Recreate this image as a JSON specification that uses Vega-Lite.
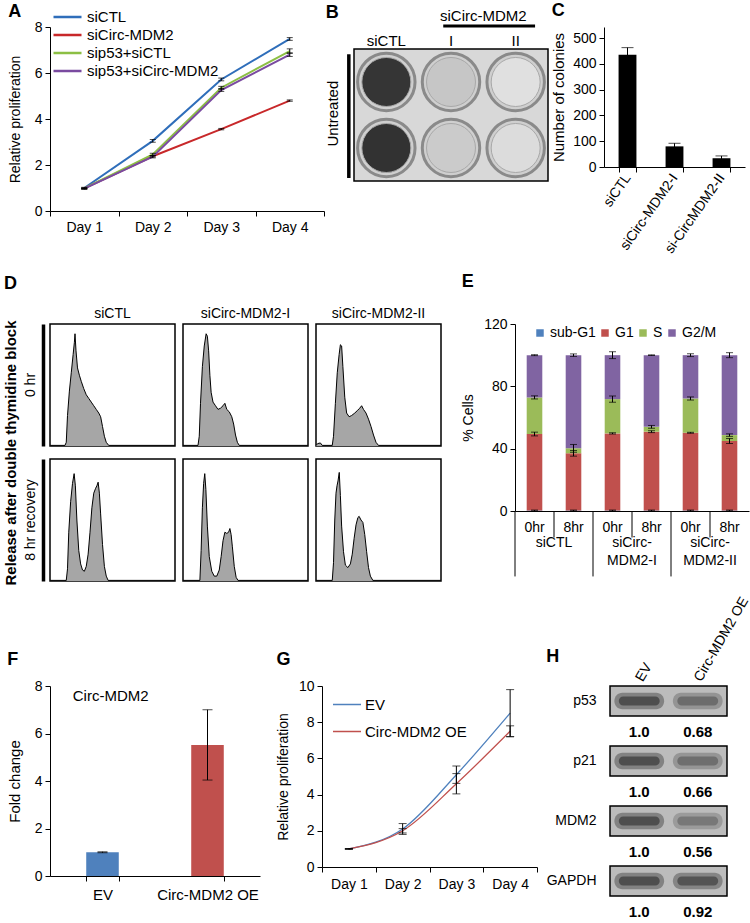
{
  "$schema": "https://vega.github.io/schema/vega-lite/v6.json",
  "background": "white",
  "padding": {"left": 3, "top": 2, "right": 0, "bottom": 0},
  "config": {
    "font": "Liberation Sans",
    "view": {"stroke": null},
    "axis": {
      "grid": false, "domainColor": "black", "tickColor": "black", "labelColor": "black",
      "titleColor": "black", "titleFontWeight": "normal", "labelFontSize": 13, "titleFontSize": 14,
      "labelFont": "Liberation Sans", "titleFont": "Liberation Sans", "tickSize": 5, "labelPadding": 3, "minExtent": 0
    },
    "legend": {"labelFont": "Liberation Sans", "labelColor": "black", "labelFontSize": 14},
    "header": {"labelFont": "Liberation Sans", "titleFont": "Liberation Sans", "labelColor": "black", "titleColor": "black"},
    "title": {"fontSize": 18, "fontWeight": "bold", "anchor": "start", "font": "Liberation Sans", "frame": "bounds", "color": "black"}
  },
  "datasets": {
    "prolif": [
      {"day": "Day 1", "series": "siCTL", "value": 1.0, "err": 0.03},
      {"day": "Day 2", "series": "siCTL", "value": 3.05, "err": 0.06},
      {"day": "Day 3", "series": "siCTL", "value": 5.72, "err": 0.06},
      {"day": "Day 4", "series": "siCTL", "value": 7.48, "err": 0.06},
      {"day": "Day 1", "series": "siCirc-MDM2", "value": 0.98, "err": 0.02},
      {"day": "Day 2", "series": "siCirc-MDM2", "value": 2.38, "err": 0.03},
      {"day": "Day 3", "series": "siCirc-MDM2", "value": 3.56, "err": 0.03},
      {"day": "Day 4", "series": "siCirc-MDM2", "value": 4.8, "err": 0.03},
      {"day": "Day 1", "series": "sip53+siCTL", "value": 0.98, "err": 0.02},
      {"day": "Day 2", "series": "sip53+siCTL", "value": 2.46, "err": 0.05},
      {"day": "Day 3", "series": "sip53+siCTL", "value": 5.36, "err": 0.06},
      {"day": "Day 4", "series": "sip53+siCTL", "value": 6.95, "err": 0.1},
      {"day": "Day 1", "series": "sip53+siCirc-MDM2", "value": 0.97, "err": 0.02},
      {"day": "Day 2", "series": "sip53+siCirc-MDM2", "value": 2.36, "err": 0.05},
      {"day": "Day 3", "series": "sip53+siCirc-MDM2", "value": 5.26, "err": 0.06},
      {"day": "Day 4", "series": "sip53+siCirc-MDM2", "value": 6.8, "err": 0.08}
    ],
    "plates": [
      {"col": "siCTL", "row": 1, "colonies": 430},
      {"col": "siCTL", "row": 2, "colonies": 440},
      {"col": "I", "row": 1, "colonies": 85},
      {"col": "I", "row": 2, "colonies": 75},
      {"col": "II", "row": 1, "colonies": 30},
      {"col": "II", "row": 2, "colonies": 38}
    ],
    "colonies": [
      {"cond": "siCTL", "n": 435, "err": 28},
      {"cond": "siCirc-MDM2-I", "n": 80, "err": 12},
      {"cond": "si-CircMDM2-II", "n": 34, "err": 9}
    ],
    "flow": [
      {"cond": "siCTL", "time": "0 hr", "kind": "hist", "ch": 0, "cnt": 0.5},
      {"cond": "siCTL", "time": "0 hr", "kind": "hist", "ch": 12, "cnt": 0.5},
      {"cond": "siCTL", "time": "0 hr", "kind": "hist", "ch": 13, "cnt": 3},
      {"cond": "siCTL", "time": "0 hr", "kind": "hist", "ch": 14, "cnt": 25},
      {"cond": "siCTL", "time": "0 hr", "kind": "hist", "ch": 15.5, "cnt": 45},
      {"cond": "siCTL", "time": "0 hr", "kind": "hist", "ch": 17, "cnt": 60},
      {"cond": "siCTL", "time": "0 hr", "kind": "hist", "ch": 18.5, "cnt": 75},
      {"cond": "siCTL", "time": "0 hr", "kind": "hist", "ch": 19.5, "cnt": 85},
      {"cond": "siCTL", "time": "0 hr", "kind": "hist", "ch": 20, "cnt": 92},
      {"cond": "siCTL", "time": "0 hr", "kind": "hist", "ch": 20.8, "cnt": 78},
      {"cond": "siCTL", "time": "0 hr", "kind": "hist", "ch": 22, "cnt": 64},
      {"cond": "siCTL", "time": "0 hr", "kind": "hist", "ch": 23.5, "cnt": 58},
      {"cond": "siCTL", "time": "0 hr", "kind": "hist", "ch": 25, "cnt": 53},
      {"cond": "siCTL", "time": "0 hr", "kind": "hist", "ch": 27, "cnt": 47},
      {"cond": "siCTL", "time": "0 hr", "kind": "hist", "ch": 29, "cnt": 42},
      {"cond": "siCTL", "time": "0 hr", "kind": "hist", "ch": 31, "cnt": 39},
      {"cond": "siCTL", "time": "0 hr", "kind": "hist", "ch": 33, "cnt": 36},
      {"cond": "siCTL", "time": "0 hr", "kind": "hist", "ch": 35, "cnt": 33},
      {"cond": "siCTL", "time": "0 hr", "kind": "hist", "ch": 37, "cnt": 30},
      {"cond": "siCTL", "time": "0 hr", "kind": "hist", "ch": 39, "cnt": 27},
      {"cond": "siCTL", "time": "0 hr", "kind": "hist", "ch": 40.5, "cnt": 24},
      {"cond": "siCTL", "time": "0 hr", "kind": "hist", "ch": 42, "cnt": 16},
      {"cond": "siCTL", "time": "0 hr", "kind": "hist", "ch": 43.5, "cnt": 8},
      {"cond": "siCTL", "time": "0 hr", "kind": "hist", "ch": 45, "cnt": 3},
      {"cond": "siCTL", "time": "0 hr", "kind": "hist", "ch": 47, "cnt": 0.5},
      {"cond": "siCTL", "time": "0 hr", "kind": "hist", "ch": 100, "cnt": 0.5},
      {"cond": "siCirc-MDM2-I", "time": "0 hr", "kind": "hist", "ch": 0, "cnt": 0.5},
      {"cond": "siCirc-MDM2-I", "time": "0 hr", "kind": "hist", "ch": 12, "cnt": 0.5},
      {"cond": "siCirc-MDM2-I", "time": "0 hr", "kind": "hist", "ch": 13, "cnt": 8},
      {"cond": "siCirc-MDM2-I", "time": "0 hr", "kind": "hist", "ch": 14, "cnt": 35},
      {"cond": "siCirc-MDM2-I", "time": "0 hr", "kind": "hist", "ch": 15.5, "cnt": 65},
      {"cond": "siCirc-MDM2-I", "time": "0 hr", "kind": "hist", "ch": 17, "cnt": 82},
      {"cond": "siCirc-MDM2-I", "time": "0 hr", "kind": "hist", "ch": 18.5, "cnt": 92},
      {"cond": "siCirc-MDM2-I", "time": "0 hr", "kind": "hist", "ch": 19.5, "cnt": 90},
      {"cond": "siCirc-MDM2-I", "time": "0 hr", "kind": "hist", "ch": 20.5, "cnt": 78},
      {"cond": "siCirc-MDM2-I", "time": "0 hr", "kind": "hist", "ch": 21.5, "cnt": 58},
      {"cond": "siCirc-MDM2-I", "time": "0 hr", "kind": "hist", "ch": 22.5, "cnt": 44},
      {"cond": "siCirc-MDM2-I", "time": "0 hr", "kind": "hist", "ch": 24, "cnt": 36},
      {"cond": "siCirc-MDM2-I", "time": "0 hr", "kind": "hist", "ch": 26, "cnt": 33},
      {"cond": "siCirc-MDM2-I", "time": "0 hr", "kind": "hist", "ch": 28, "cnt": 30},
      {"cond": "siCirc-MDM2-I", "time": "0 hr", "kind": "hist", "ch": 30, "cnt": 31},
      {"cond": "siCirc-MDM2-I", "time": "0 hr", "kind": "hist", "ch": 32, "cnt": 33},
      {"cond": "siCirc-MDM2-I", "time": "0 hr", "kind": "hist", "ch": 33.5, "cnt": 35},
      {"cond": "siCirc-MDM2-I", "time": "0 hr", "kind": "hist", "ch": 35, "cnt": 30},
      {"cond": "siCirc-MDM2-I", "time": "0 hr", "kind": "hist", "ch": 37, "cnt": 28},
      {"cond": "siCirc-MDM2-I", "time": "0 hr", "kind": "hist", "ch": 39, "cnt": 24},
      {"cond": "siCirc-MDM2-I", "time": "0 hr", "kind": "hist", "ch": 40.5, "cnt": 18},
      {"cond": "siCirc-MDM2-I", "time": "0 hr", "kind": "hist", "ch": 42, "cnt": 9},
      {"cond": "siCirc-MDM2-I", "time": "0 hr", "kind": "hist", "ch": 43.5, "cnt": 3},
      {"cond": "siCirc-MDM2-I", "time": "0 hr", "kind": "hist", "ch": 45, "cnt": 0.5},
      {"cond": "siCirc-MDM2-I", "time": "0 hr", "kind": "hist", "ch": 100, "cnt": 0.5},
      {"cond": "siCirc-MDM2-II", "time": "0 hr", "kind": "hist", "ch": 0, "cnt": 0.5},
      {"cond": "siCirc-MDM2-II", "time": "0 hr", "kind": "hist", "ch": 1.5, "cnt": 2},
      {"cond": "siCirc-MDM2-II", "time": "0 hr", "kind": "hist", "ch": 3.5, "cnt": 2.5},
      {"cond": "siCirc-MDM2-II", "time": "0 hr", "kind": "hist", "ch": 5, "cnt": 0.5},
      {"cond": "siCirc-MDM2-II", "time": "0 hr", "kind": "hist", "ch": 13, "cnt": 0.5},
      {"cond": "siCirc-MDM2-II", "time": "0 hr", "kind": "hist", "ch": 14, "cnt": 8},
      {"cond": "siCirc-MDM2-II", "time": "0 hr", "kind": "hist", "ch": 15.5, "cnt": 35},
      {"cond": "siCirc-MDM2-II", "time": "0 hr", "kind": "hist", "ch": 17, "cnt": 60},
      {"cond": "siCirc-MDM2-II", "time": "0 hr", "kind": "hist", "ch": 18.5, "cnt": 75},
      {"cond": "siCirc-MDM2-II", "time": "0 hr", "kind": "hist", "ch": 19.5, "cnt": 83},
      {"cond": "siCirc-MDM2-II", "time": "0 hr", "kind": "hist", "ch": 20.5, "cnt": 82},
      {"cond": "siCirc-MDM2-II", "time": "0 hr", "kind": "hist", "ch": 21.5, "cnt": 65},
      {"cond": "siCirc-MDM2-II", "time": "0 hr", "kind": "hist", "ch": 23, "cnt": 40},
      {"cond": "siCirc-MDM2-II", "time": "0 hr", "kind": "hist", "ch": 24.5, "cnt": 27},
      {"cond": "siCirc-MDM2-II", "time": "0 hr", "kind": "hist", "ch": 26.5, "cnt": 24},
      {"cond": "siCirc-MDM2-II", "time": "0 hr", "kind": "hist", "ch": 28.5, "cnt": 25},
      {"cond": "siCirc-MDM2-II", "time": "0 hr", "kind": "hist", "ch": 31, "cnt": 27},
      {"cond": "siCirc-MDM2-II", "time": "0 hr", "kind": "hist", "ch": 33, "cnt": 29},
      {"cond": "siCirc-MDM2-II", "time": "0 hr", "kind": "hist", "ch": 35, "cnt": 31},
      {"cond": "siCirc-MDM2-II", "time": "0 hr", "kind": "hist", "ch": 36.5, "cnt": 33},
      {"cond": "siCirc-MDM2-II", "time": "0 hr", "kind": "hist", "ch": 38, "cnt": 30},
      {"cond": "siCirc-MDM2-II", "time": "0 hr", "kind": "hist", "ch": 40, "cnt": 27},
      {"cond": "siCirc-MDM2-II", "time": "0 hr", "kind": "hist", "ch": 42, "cnt": 22},
      {"cond": "siCirc-MDM2-II", "time": "0 hr", "kind": "hist", "ch": 44, "cnt": 16},
      {"cond": "siCirc-MDM2-II", "time": "0 hr", "kind": "hist", "ch": 46, "cnt": 9},
      {"cond": "siCirc-MDM2-II", "time": "0 hr", "kind": "hist", "ch": 48, "cnt": 3},
      {"cond": "siCirc-MDM2-II", "time": "0 hr", "kind": "hist", "ch": 50, "cnt": 0.5},
      {"cond": "siCirc-MDM2-II", "time": "0 hr", "kind": "hist", "ch": 100, "cnt": 0.5},
      {"cond": "siCTL", "time": "8 hr recovery", "kind": "hist", "ch": 0, "cnt": 0.5},
      {"cond": "siCTL", "time": "8 hr recovery", "kind": "hist", "ch": 13, "cnt": 0.5},
      {"cond": "siCTL", "time": "8 hr recovery", "kind": "hist", "ch": 14, "cnt": 10},
      {"cond": "siCTL", "time": "8 hr recovery", "kind": "hist", "ch": 15, "cnt": 40},
      {"cond": "siCTL", "time": "8 hr recovery", "kind": "hist", "ch": 16.5, "cnt": 65},
      {"cond": "siCTL", "time": "8 hr recovery", "kind": "hist", "ch": 18, "cnt": 80},
      {"cond": "siCTL", "time": "8 hr recovery", "kind": "hist", "ch": 19.3, "cnt": 88},
      {"cond": "siCTL", "time": "8 hr recovery", "kind": "hist", "ch": 20.3, "cnt": 78},
      {"cond": "siCTL", "time": "8 hr recovery", "kind": "hist", "ch": 21.5, "cnt": 50},
      {"cond": "siCTL", "time": "8 hr recovery", "kind": "hist", "ch": 23, "cnt": 25},
      {"cond": "siCTL", "time": "8 hr recovery", "kind": "hist", "ch": 24.5, "cnt": 14},
      {"cond": "siCTL", "time": "8 hr recovery", "kind": "hist", "ch": 26, "cnt": 9},
      {"cond": "siCTL", "time": "8 hr recovery", "kind": "hist", "ch": 27.5, "cnt": 8},
      {"cond": "siCTL", "time": "8 hr recovery", "kind": "hist", "ch": 29, "cnt": 12},
      {"cond": "siCTL", "time": "8 hr recovery", "kind": "hist", "ch": 30.5, "cnt": 22},
      {"cond": "siCTL", "time": "8 hr recovery", "kind": "hist", "ch": 32, "cnt": 40},
      {"cond": "siCTL", "time": "8 hr recovery", "kind": "hist", "ch": 33.5, "cnt": 60},
      {"cond": "siCTL", "time": "8 hr recovery", "kind": "hist", "ch": 35, "cnt": 72},
      {"cond": "siCTL", "time": "8 hr recovery", "kind": "hist", "ch": 36.5, "cnt": 76},
      {"cond": "siCTL", "time": "8 hr recovery", "kind": "hist", "ch": 37.5, "cnt": 78},
      {"cond": "siCTL", "time": "8 hr recovery", "kind": "hist", "ch": 38.5, "cnt": 81},
      {"cond": "siCTL", "time": "8 hr recovery", "kind": "hist", "ch": 39.5, "cnt": 72},
      {"cond": "siCTL", "time": "8 hr recovery", "kind": "hist", "ch": 40.5, "cnt": 55},
      {"cond": "siCTL", "time": "8 hr recovery", "kind": "hist", "ch": 42, "cnt": 30},
      {"cond": "siCTL", "time": "8 hr recovery", "kind": "hist", "ch": 43.5, "cnt": 12},
      {"cond": "siCTL", "time": "8 hr recovery", "kind": "hist", "ch": 45, "cnt": 4},
      {"cond": "siCTL", "time": "8 hr recovery", "kind": "hist", "ch": 46.5, "cnt": 0.5},
      {"cond": "siCTL", "time": "8 hr recovery", "kind": "hist", "ch": 100, "cnt": 0.5},
      {"cond": "siCirc-MDM2-I", "time": "8 hr recovery", "kind": "hist", "ch": 0, "cnt": 0.5},
      {"cond": "siCirc-MDM2-I", "time": "8 hr recovery", "kind": "hist", "ch": 13.5, "cnt": 0.5},
      {"cond": "siCirc-MDM2-I", "time": "8 hr recovery", "kind": "hist", "ch": 14.5, "cnt": 25},
      {"cond": "siCirc-MDM2-I", "time": "8 hr recovery", "kind": "hist", "ch": 15.5, "cnt": 60},
      {"cond": "siCirc-MDM2-I", "time": "8 hr recovery", "kind": "hist", "ch": 16.5, "cnt": 80},
      {"cond": "siCirc-MDM2-I", "time": "8 hr recovery", "kind": "hist", "ch": 17.4, "cnt": 88},
      {"cond": "siCirc-MDM2-I", "time": "8 hr recovery", "kind": "hist", "ch": 18.3, "cnt": 75},
      {"cond": "siCirc-MDM2-I", "time": "8 hr recovery", "kind": "hist", "ch": 19.5, "cnt": 45},
      {"cond": "siCirc-MDM2-I", "time": "8 hr recovery", "kind": "hist", "ch": 21, "cnt": 20},
      {"cond": "siCirc-MDM2-I", "time": "8 hr recovery", "kind": "hist", "ch": 23, "cnt": 8},
      {"cond": "siCirc-MDM2-I", "time": "8 hr recovery", "kind": "hist", "ch": 25, "cnt": 4},
      {"cond": "siCirc-MDM2-I", "time": "8 hr recovery", "kind": "hist", "ch": 27, "cnt": 4},
      {"cond": "siCirc-MDM2-I", "time": "8 hr recovery", "kind": "hist", "ch": 29, "cnt": 9},
      {"cond": "siCirc-MDM2-I", "time": "8 hr recovery", "kind": "hist", "ch": 30.5, "cnt": 20},
      {"cond": "siCirc-MDM2-I", "time": "8 hr recovery", "kind": "hist", "ch": 32, "cnt": 33},
      {"cond": "siCirc-MDM2-I", "time": "8 hr recovery", "kind": "hist", "ch": 33.5, "cnt": 40},
      {"cond": "siCirc-MDM2-I", "time": "8 hr recovery", "kind": "hist", "ch": 35, "cnt": 39},
      {"cond": "siCirc-MDM2-I", "time": "8 hr recovery", "kind": "hist", "ch": 36.5, "cnt": 40},
      {"cond": "siCirc-MDM2-I", "time": "8 hr recovery", "kind": "hist", "ch": 37.5, "cnt": 43},
      {"cond": "siCirc-MDM2-I", "time": "8 hr recovery", "kind": "hist", "ch": 38.5, "cnt": 38},
      {"cond": "siCirc-MDM2-I", "time": "8 hr recovery", "kind": "hist", "ch": 39.5, "cnt": 28},
      {"cond": "siCirc-MDM2-I", "time": "8 hr recovery", "kind": "hist", "ch": 41, "cnt": 12},
      {"cond": "siCirc-MDM2-I", "time": "8 hr recovery", "kind": "hist", "ch": 42.5, "cnt": 3},
      {"cond": "siCirc-MDM2-I", "time": "8 hr recovery", "kind": "hist", "ch": 44, "cnt": 0.5},
      {"cond": "siCirc-MDM2-I", "time": "8 hr recovery", "kind": "hist", "ch": 100, "cnt": 0.5},
      {"cond": "siCirc-MDM2-II", "time": "8 hr recovery", "kind": "hist", "ch": 0, "cnt": 0.5},
      {"cond": "siCirc-MDM2-II", "time": "8 hr recovery", "kind": "hist", "ch": 13, "cnt": 0.5},
      {"cond": "siCirc-MDM2-II", "time": "8 hr recovery", "kind": "hist", "ch": 14, "cnt": 15},
      {"cond": "siCirc-MDM2-II", "time": "8 hr recovery", "kind": "hist", "ch": 15, "cnt": 50},
      {"cond": "siCirc-MDM2-II", "time": "8 hr recovery", "kind": "hist", "ch": 16, "cnt": 72},
      {"cond": "siCirc-MDM2-II", "time": "8 hr recovery", "kind": "hist", "ch": 16.8, "cnt": 78},
      {"cond": "siCirc-MDM2-II", "time": "8 hr recovery", "kind": "hist", "ch": 17.6, "cnt": 82},
      {"cond": "siCirc-MDM2-II", "time": "8 hr recovery", "kind": "hist", "ch": 18.6, "cnt": 89},
      {"cond": "siCirc-MDM2-II", "time": "8 hr recovery", "kind": "hist", "ch": 19.5, "cnt": 70},
      {"cond": "siCirc-MDM2-II", "time": "8 hr recovery", "kind": "hist", "ch": 20.5, "cnt": 45},
      {"cond": "siCirc-MDM2-II", "time": "8 hr recovery", "kind": "hist", "ch": 22, "cnt": 24},
      {"cond": "siCirc-MDM2-II", "time": "8 hr recovery", "kind": "hist", "ch": 23.5, "cnt": 13},
      {"cond": "siCirc-MDM2-II", "time": "8 hr recovery", "kind": "hist", "ch": 25.5, "cnt": 11},
      {"cond": "siCirc-MDM2-II", "time": "8 hr recovery", "kind": "hist", "ch": 27.5, "cnt": 14},
      {"cond": "siCirc-MDM2-II", "time": "8 hr recovery", "kind": "hist", "ch": 29, "cnt": 22},
      {"cond": "siCirc-MDM2-II", "time": "8 hr recovery", "kind": "hist", "ch": 30.5, "cnt": 35},
      {"cond": "siCirc-MDM2-II", "time": "8 hr recovery", "kind": "hist", "ch": 32, "cnt": 46},
      {"cond": "siCirc-MDM2-II", "time": "8 hr recovery", "kind": "hist", "ch": 33.5, "cnt": 52},
      {"cond": "siCirc-MDM2-II", "time": "8 hr recovery", "kind": "hist", "ch": 34.5, "cnt": 53},
      {"cond": "siCirc-MDM2-II", "time": "8 hr recovery", "kind": "hist", "ch": 36, "cnt": 50},
      {"cond": "siCirc-MDM2-II", "time": "8 hr recovery", "kind": "hist", "ch": 37.5, "cnt": 48},
      {"cond": "siCirc-MDM2-II", "time": "8 hr recovery", "kind": "hist", "ch": 39, "cnt": 38},
      {"cond": "siCirc-MDM2-II", "time": "8 hr recovery", "kind": "hist", "ch": 40.5, "cnt": 24},
      {"cond": "siCirc-MDM2-II", "time": "8 hr recovery", "kind": "hist", "ch": 42, "cnt": 11},
      {"cond": "siCirc-MDM2-II", "time": "8 hr recovery", "kind": "hist", "ch": 43.5, "cnt": 4},
      {"cond": "siCirc-MDM2-II", "time": "8 hr recovery", "kind": "hist", "ch": 45.5, "cnt": 0.5},
      {"cond": "siCirc-MDM2-II", "time": "8 hr recovery", "kind": "hist", "ch": 100, "cnt": 0.5},
      {"cond": "siCTL", "time": "0 hr", "kind": "pct", "phase": "G1", "frac": 0.48},
      {"cond": "siCTL", "time": "0 hr", "kind": "pct", "phase": "S", "frac": 0.24},
      {"cond": "siCTL", "time": "0 hr", "kind": "pct", "phase": "G2/M", "frac": 0.28},
      {"cond": "siCTL", "time": "0 hr", "kind": "pct", "phase": "sub-G1", "frac": 0},
      {"cond": "siCirc-MDM2-I", "time": "0 hr", "kind": "pct", "phase": "G1", "frac": 0.51},
      {"cond": "siCirc-MDM2-I", "time": "0 hr", "kind": "pct", "phase": "S", "frac": 0.20},
      {"cond": "siCirc-MDM2-I", "time": "0 hr", "kind": "pct", "phase": "G2/M", "frac": 0.29},
      {"cond": "siCirc-MDM2-I", "time": "0 hr", "kind": "pct", "phase": "sub-G1", "frac": 0},
      {"cond": "siCirc-MDM2-II", "time": "0 hr", "kind": "pct", "phase": "G1", "frac": 0.50},
      {"cond": "siCirc-MDM2-II", "time": "0 hr", "kind": "pct", "phase": "S", "frac": 0.20},
      {"cond": "siCirc-MDM2-II", "time": "0 hr", "kind": "pct", "phase": "G2/M", "frac": 0.30},
      {"cond": "siCirc-MDM2-II", "time": "0 hr", "kind": "pct", "phase": "sub-G1", "frac": 0},
      {"cond": "siCTL", "time": "8 hr recovery", "kind": "pct", "phase": "G1", "frac": 0.37},
      {"cond": "siCTL", "time": "8 hr recovery", "kind": "pct", "phase": "S", "frac": 0.04},
      {"cond": "siCTL", "time": "8 hr recovery", "kind": "pct", "phase": "G2/M", "frac": 0.59},
      {"cond": "siCTL", "time": "8 hr recovery", "kind": "pct", "phase": "sub-G1", "frac": 0},
      {"cond": "siCirc-MDM2-I", "time": "8 hr recovery", "kind": "pct", "phase": "G1", "frac": 0.50},
      {"cond": "siCirc-MDM2-I", "time": "8 hr recovery", "kind": "pct", "phase": "S", "frac": 0.03},
      {"cond": "siCirc-MDM2-I", "time": "8 hr recovery", "kind": "pct", "phase": "G2/M", "frac": 0.47},
      {"cond": "siCirc-MDM2-I", "time": "8 hr recovery", "kind": "pct", "phase": "sub-G1", "frac": 0},
      {"cond": "siCirc-MDM2-II", "time": "8 hr recovery", "kind": "pct", "phase": "G1", "frac": 0.45},
      {"cond": "siCirc-MDM2-II", "time": "8 hr recovery", "kind": "pct", "phase": "S", "frac": 0.05},
      {"cond": "siCirc-MDM2-II", "time": "8 hr recovery", "kind": "pct", "phase": "G2/M", "frac": 0.50},
      {"cond": "siCirc-MDM2-II", "time": "8 hr recovery", "kind": "pct", "phase": "sub-G1", "frac": 0}
    ],
    "cycle": [
      {"grp": "siCTL", "time": "0hr", "phase": "sub-G1", "k": 1, "pct": 0.3, "err": 0.3},
      {"grp": "siCTL", "time": "0hr", "phase": "G1", "k": 2, "pct": 49.1, "err": 1.2},
      {"grp": "siCTL", "time": "0hr", "phase": "S", "k": 3, "pct": 23.5, "err": 1.0},
      {"grp": "siCTL", "time": "0hr", "phase": "G2/M", "k": 4, "pct": 27.1, "err": 0.3},
      {"grp": "siCTL", "time": "8hr", "phase": "sub-G1", "k": 1, "pct": 0.3, "err": 0.3},
      {"grp": "siCTL", "time": "8hr", "phase": "G1", "k": 2, "pct": 36.7, "err": 1.8},
      {"grp": "siCTL", "time": "8hr", "phase": "S", "k": 3, "pct": 3.2, "err": 2.5},
      {"grp": "siCTL", "time": "8hr", "phase": "G2/M", "k": 4, "pct": 59.8, "err": 0.8},
      {"grp": "siCirc-MDM2-I", "time": "0hr", "phase": "sub-G1", "k": 1, "pct": 0.3, "err": 0.3},
      {"grp": "siCirc-MDM2-I", "time": "0hr", "phase": "G1", "k": 2, "pct": 49.5, "err": 0.4},
      {"grp": "siCirc-MDM2-I", "time": "0hr", "phase": "S", "k": 3, "pct": 22.0, "err": 2.0},
      {"grp": "siCirc-MDM2-I", "time": "0hr", "phase": "G2/M", "k": 4, "pct": 28.2, "err": 2.2},
      {"grp": "siCirc-MDM2-I", "time": "8hr", "phase": "sub-G1", "k": 1, "pct": 0.3, "err": 0.3},
      {"grp": "siCirc-MDM2-I", "time": "8hr", "phase": "G1", "k": 2, "pct": 50.6, "err": 0.6},
      {"grp": "siCirc-MDM2-I", "time": "8hr", "phase": "S", "k": 3, "pct": 3.1, "err": 0.9},
      {"grp": "siCirc-MDM2-I", "time": "8hr", "phase": "G2/M", "k": 4, "pct": 46.0, "err": 0.2},
      {"grp": "siCirc-MDM2-II", "time": "0hr", "phase": "sub-G1", "k": 1, "pct": 0.3, "err": 0.3},
      {"grp": "siCirc-MDM2-II", "time": "0hr", "phase": "G1", "k": 2, "pct": 49.9, "err": 0.3},
      {"grp": "siCirc-MDM2-II", "time": "0hr", "phase": "S", "k": 3, "pct": 22.0, "err": 1.0},
      {"grp": "siCirc-MDM2-II", "time": "0hr", "phase": "G2/M", "k": 4, "pct": 27.8, "err": 0.9},
      {"grp": "siCirc-MDM2-II", "time": "8hr", "phase": "sub-G1", "k": 1, "pct": 0.3, "err": 0.3},
      {"grp": "siCirc-MDM2-II", "time": "8hr", "phase": "G1", "k": 2, "pct": 44.6, "err": 1.6},
      {"grp": "siCirc-MDM2-II", "time": "8hr", "phase": "S", "k": 3, "pct": 3.8, "err": 0.8},
      {"grp": "siCirc-MDM2-II", "time": "8hr", "phase": "G2/M", "k": 4, "pct": 51.3, "err": 1.6}
    ],
    "fold": [
      {"cond": "EV", "fold": 1.0, "err": 0.02},
      {"cond": "Circ-MDM2 OE", "fold": 5.52, "err": 1.48}
    ],
    "oe": [
      {"day": "Day 1", "series": "EV", "value": 1.0, "err": 0.02},
      {"day": "Day 2", "series": "EV", "value": 2.1, "err": 0.3},
      {"day": "Day 3", "series": "EV", "value": 5.1, "err": 0.48},
      {"day": "Day 4", "series": "EV", "value": 8.5, "err": 1.3},
      {"day": "Day 1", "series": "Circ-MDM2 OE", "value": 1.0, "err": 0.02},
      {"day": "Day 2", "series": "Circ-MDM2 OE", "value": 2.0, "err": 0.12},
      {"day": "Day 3", "series": "Circ-MDM2 OE", "value": 4.6, "err": 0.56},
      {"day": "Day 4", "series": "Circ-MDM2 OE", "value": 7.5, "err": 0.3}
    ],
    "blot": [
      {"protein": "p53", "lane": "EV", "rel": 1.0},
      {"protein": "p53", "lane": "Circ-MDM2 OE", "rel": 0.68},
      {"protein": "p21", "lane": "EV", "rel": 1.0},
      {"protein": "p21", "lane": "Circ-MDM2 OE", "rel": 0.66},
      {"protein": "MDM2", "lane": "EV", "rel": 1.0},
      {"protein": "MDM2", "lane": "Circ-MDM2 OE", "rel": 0.56},
      {"protein": "GAPDH", "lane": "EV", "rel": 1.0},
      {"protein": "GAPDH", "lane": "Circ-MDM2 OE", "rel": 0.92}
    ]
  },
  "vconcat": [
    {
      "vconcat": [
        {
          "hconcat": [
            {
              "width": 274, "height": 184,
              "title": {"text": "A", "offset": -12},
              "data": {"name": "prolif"},
              "encoding": {
                "x": {"field": "day", "type": "ordinal", "bandPosition": 0.5,
                      "scale": {"type": "band", "paddingInner": 0, "paddingOuter": 0},
                      "axis": {"title": null, "labelAngle": 0, "tickBand": "extent", "labelFontSize": 14, "labelPadding": 4}},
                "y": {"field": "value", "type": "quantitative", "scale": {"domain": [0, 8]},
                      "axis": {"values": [0, 2, 4, 6, 8], "title": "Relative proliferation", "labelFontSize": 14, "titlePadding": 12}}
              },
              "layer": [
                {
                  "mark": {"type": "line", "strokeWidth": 2},
                  "encoding": {
                    "color": {"field": "series", "type": "nominal",
                      "scale": {"domain": ["siCTL", "siCirc-MDM2", "sip53+siCTL", "sip53+siCirc-MDM2"],
                                "range": ["#2F6EBA", "#C8282A", "#8CBF44", "#7A4BA0"]},
                      "legend": {"orient": "none", "legendX": 2, "legendY": -18, "title": null, "symbolType": "stroke",
                                 "symbolStrokeWidth": 2.5, "symbolSize": 784, "clipHeight": 16, "labelFontSize": 15, "labelOffset": 4}}
                  }
                },
                {
                  "mark": {"type": "errorbar", "ticks": {"size": 6}, "color": "black"},
                  "encoding": {"yError": {"field": "err"}, "detail": {"field": "series"}}
                }
              ]
            },
            {
              "hconcat": [
                {
                  "width": 194, "height": 154,
                  "title": {"text": "B", "offset": -13},
                  "data": {"name": "plates"},
                  "encoding": {
                    "x": {"field": "col", "type": "nominal", "sort": ["siCTL", "I", "II"],
                          "scale": {"type": "band", "paddingInner": 0, "paddingOuter": 0}, "axis": null},
                    "y": {"field": "row", "type": "quantitative", "scale": {"domain": [0.167, 2.5], "reverse": true}, "axis": null}
                  },
                  "layer": [
                    {
                      "transform": [{"filter": "datum.col == 'siCTL' && datum.row == 1"}],
                      "mark": {"type": "rect", "color": "#d8d8d8", "stroke": "black", "strokeWidth": 1.5},
                      "encoding": {"x": {"datum": "siCTL", "bandPosition": 0}, "x2": {"datum": "II", "bandPosition": 1}, "y": {"datum": 0.5}, "y2": {"datum": 2.5}}
                    },
                    {
                      "mark": {"type": "point", "filled": true, "shape": "circle", "size": 3300, "color": "#cfcfcf", "stroke": "#8a8a8a", "strokeWidth": 3, "opacity": 1}
                    },
                    {
                      "mark": {"type": "point", "filled": true, "shape": "circle", "size": 2400, "stroke": "#a8a8a8", "strokeWidth": 1, "opacity": 1},
                      "encoding": {
                        "color": {"field": "colonies", "type": "quantitative", "scale": {"domain": [0, 450], "range": ["#eeeeee", "#2e2e2e"]}, "legend": null}
                      }
                    },
                    {
                      "transform": [{"filter": "datum.row == 1"}],
                      "mark": {"type": "text", "fontSize": 15, "baseline": "middle"},
                      "encoding": {"y": {"datum": 0.38}, "text": {"field": "col"}}
                    },
                    {
                      "transform": [{"filter": "datum.col == 'I' && datum.row == 1"}],
                      "mark": {"type": "rule", "strokeWidth": 3, "color": "black"},
                      "encoding": {"x": {"datum": "I", "bandPosition": 0.38}, "x2": {"datum": "II", "bandPosition": 0.8}, "y": {"datum": 0.15}}
                    },
                    {
                      "transform": [{"filter": "datum.col == 'I' && datum.row == 1"}],
                      "mark": {"type": "text", "fontSize": 15, "baseline": "middle"},
                      "encoding": {"x": {"datum": "I", "bandPosition": 1}, "y": {"datum": 0.0}, "text": {"value": "siCirc-MDM2"}}
                    },
                    {
                      "transform": [{"filter": "datum.col == 'siCTL' && datum.row == 1"}],
                      "mark": {"type": "rule", "strokeWidth": 3.5, "color": "black"},
                      "encoding": {"x": {"datum": "siCTL", "bandPosition": -0.08}, "y": {"datum": 0.58}, "y2": {"datum": 2.455}}
                    },
                    {
                      "transform": [{"filter": "datum.col == 'siCTL' && datum.row == 1"}],
                      "mark": {"type": "text", "fontSize": 15, "angle": 270, "baseline": "middle"},
                      "encoding": {"x": {"datum": "siCTL", "bandPosition": -0.33}, "y": {"datum": 1.48}, "text": {"value": "Untreated"}}
                    }
                  ]
                },
                {
                  "width": 141, "height": 140,
                  "title": {"text": "C", "offset": 7},
                  "data": {"name": "colonies"},
                  "encoding": {
                    "x": {"field": "cond", "type": "nominal", "sort": ["siCTL", "siCirc-MDM2-I", "si-CircMDM2-II"],
                          "scale": {"paddingInner": 0.62, "paddingOuter": 0.31},
                          "axis": {"title": null, "labelAngle": -55, "labelAlign": "right", "tickBand": "extent", "labelFontSize": 14}},
                    "y": {"field": "n", "type": "quantitative", "scale": {"domain": [0, 543]},
                          "axis": {"values": [0, 100, 200, 300, 400, 500], "title": "Number of colonies", "labelFontSize": 14, "titleFontSize": 15, "titlePadding": 6}}
                  },
                  "layer": [
                    {"mark": {"type": "bar", "color": "black"}},
                    {"mark": {"type": "errorbar", "ticks": {"size": 12}, "color": "black"}, "encoding": {"yError": {"field": "err"}}}
                  ]
                }
              ],
              "spacing": 0,
              "resolve": {"scale": {"color": "independent"}}
            }
          ],
          "spacing": 0,
          "resolve": {"scale": {"color": "independent"}}
        },
        {
          "hconcat": [
            {
              "title": {"text": "D", "offset": 14},
              "data": {"name": "flow"},
              "facet": {
                "row": {"field": "time", "type": "nominal", "sort": ["0 hr", "8 hr recovery"],
                        "header": {"title": "Release after double thymidine block", "titleFontSize": 15, "titleFontWeight": "bold",
                                   "titlePadding": -6, "labelAngle": -90, "labelFontSize": 14, "labelPadding": -2, "labelAlign": "center"}},
                "column": {"field": "cond", "type": "nominal", "sort": ["siCTL", "siCirc-MDM2-I", "siCirc-MDM2-II"],
                           "header": {"title": null, "labelFontSize": 14, "labelPadding": 2}}
              },
              "spacing": {"row": 9, "column": 2},
              "spec": {
                "width": 125, "height": 122,
                "view": {"stroke": "black", "strokeWidth": 1.5},
                "encoding": {
                  "x": {"field": "ch", "type": "quantitative", "scale": {"domain": [0, 100]}, "axis": null},
                  "y": {"field": "cnt", "type": "quantitative", "scale": {"domain": [0, 100]},
                        "axis": {"title": null, "labels": false, "ticks": false, "domain": true, "domainWidth": 3.5, "offset": 4, "minExtent": 0}}
                },
                "layer": [
                  {
                    "transform": [{"filter": "datum.kind == 'hist'"}],
                    "mark": {"type": "area", "color": "#a6a6a6", "opacity": 1, "line": {"color": "black", "strokeWidth": 1}}
                  },
                  {
                    "transform": [{"filter": "datum.phase == 'G1'"}],
                    "mark": {"type": "text", "align": "left", "baseline": "middle", "fontSize": 13, "color": "#C8201E"},
                    "encoding": {"x": {"datum": 41}, "y": {"datum": 90.2}, "text": {"field": "phase"}}
                  },
                  {
                    "transform": [{"filter": "datum.phase == 'G1'"}],
                    "mark": {"type": "text", "align": "right", "baseline": "middle", "fontSize": 13, "color": "#C8201E"},
                    "encoding": {"x": {"datum": 97}, "y": {"datum": 90.2}, "text": {"field": "frac", "type": "quantitative", "format": ".0%"}}
                  },
                  {
                    "transform": [{"filter": "datum.phase == 'S'"}],
                    "mark": {"type": "text", "align": "left", "baseline": "middle", "fontSize": 13, "color": "black"},
                    "encoding": {"x": {"datum": 41}, "y": {"datum": 77.9}, "text": {"field": "phase"}}
                  },
                  {
                    "transform": [{"filter": "datum.phase == 'S'"}],
                    "mark": {"type": "text", "align": "right", "baseline": "middle", "fontSize": 13, "color": "black"},
                    "encoding": {"x": {"datum": 97}, "y": {"datum": 77.9}, "text": {"field": "frac", "type": "quantitative", "format": ".0%"}}
                  },
                  {
                    "transform": [{"filter": "datum.phase == 'G2/M'"}],
                    "mark": {"type": "text", "align": "left", "baseline": "middle", "fontSize": 13, "color": "black"},
                    "encoding": {"x": {"datum": 41}, "y": {"datum": 65.6}, "text": {"field": "phase"}}
                  },
                  {
                    "transform": [{"filter": "datum.phase == 'G2/M'"}],
                    "mark": {"type": "text", "align": "right", "baseline": "middle", "fontSize": 13, "color": "black"},
                    "encoding": {"x": {"datum": 97}, "y": {"datum": 65.6}, "text": {"field": "frac", "type": "quantitative", "format": ".0%"}}
                  },
                  {
                    "transform": [{"filter": "datum.phase == 'sub-G1'"}],
                    "mark": {"type": "text", "align": "left", "baseline": "middle", "fontSize": 13, "color": "black"},
                    "encoding": {"x": {"datum": 41}, "y": {"datum": 53.3}, "text": {"field": "phase"}}
                  },
                  {
                    "transform": [{"filter": "datum.phase == 'sub-G1'"}],
                    "mark": {"type": "text", "align": "right", "baseline": "middle", "fontSize": 13, "color": "black"},
                    "encoding": {"x": {"datum": 97}, "y": {"datum": 53.3}, "text": {"field": "frac", "type": "quantitative", "format": ".0%"}}
                  }
                ]
              }
            },
            {
              "width": 234, "height": 187,
              "title": {"text": "E", "offset": 26},
              "data": {"name": "cycle"},
              "transform": [{"stack": "pct", "groupby": ["grp", "time"], "sort": [{"field": "k", "order": "ascending"}], "as": ["lo", "hi"]}],
              "encoding": {
                "x": {"field": "grp", "type": "nominal", "sort": ["siCTL", "siCirc-MDM2-I", "siCirc-MDM2-II"],
                      "scale": {"paddingInner": 0, "paddingOuter": 0},
                      "axis": {"title": null, "ticks": false, "labelAngle": 0, "labelPadding": 24, "labelFontSize": 14, "labelLineHeight": 18,
                               "labelExpr": "datum.value == 'siCTL' ? 'siCTL' : ['siCirc-', slice(datum.value, 7)]"}},
                "xOffset": {"field": "time", "type": "nominal", "scale": {"paddingInner": 0.6, "paddingOuter": 0.3}}
              },
              "layer": [
                {
                  "mark": {"type": "bar"},
                  "encoding": {
                    "y": {"field": "lo", "type": "quantitative", "title": "% Cells", "scale": {"domain": [0, 120]},
                          "axis": {"values": [0, 20, 40, 60, 80, 100, 120], "labelFontSize": 14, "titlePadding": 8}},
                    "y2": {"field": "hi"},
                    "color": {"field": "phase", "type": "nominal",
                      "scale": {"domain": ["sub-G1", "G1", "S", "G2/M"], "range": ["#4F81BD", "#C0504D", "#9BBB59", "#8064A2"]},
                      "legend": {"orient": "none", "legendX": 18, "legendY": 2, "direction": "horizontal", "title": null,
                                 "symbolType": "square", "symbolSize": 56, "labelFontSize": 14, "columnPadding": 2, "labelOffset": 3}}
                  }
                },
                {
                  "mark": {"type": "errorbar", "ticks": {"size": 7}, "color": "black"},
                  "encoding": {"y": {"field": "hi", "type": "quantitative", "title": "% Cells"}, "yError": {"field": "err"}}
                },
                {
                  "transform": [{"filter": "datum.phase == 'G1'"}],
                  "mark": {"type": "text", "fontSize": 14, "baseline": "middle"},
                  "encoding": {"y": {"datum": -11}, "text": {"field": "time"}}
                },
                {
                  "transform": [{"filter": "datum.phase == 'G1' && datum.time == '0hr'"}],
                  "mark": {"type": "rule", "color": "black", "strokeWidth": 1},
                  "encoding": {"x": {"field": "grp", "type": "nominal", "bandPosition": 0}, "xOffset": null, "y": {"datum": 0}, "y2": {"datum": -42}}
                },
                {
                  "transform": [{"filter": "datum.phase == 'G1' && datum.time == '0hr'"}],
                  "mark": {"type": "rule", "color": "black", "strokeWidth": 1},
                  "encoding": {"x": {"field": "grp", "type": "nominal", "bandPosition": 0.5}, "xOffset": null, "y": {"datum": 0}, "y2": {"datum": -17}}
                }
              ]
            }
          ],
          "spacing": 17,
          "resolve": {"scale": {"color": "independent"}}
        }
      ],
      "spacing": 17,
      "resolve": {"scale": {"color": "independent"}}
    },
    {
      "hconcat": [
        {
          "width": 210, "height": 190,
          "title": {"text": "F", "offset": 10},
          "data": {"name": "fold"},
          "encoding": {
            "x": {"field": "cond", "type": "nominal", "sort": ["EV", "Circ-MDM2 OE"],
                  "scale": {"paddingInner": 0.69, "paddingOuter": 0.345},
                  "axis": {"title": null, "labelAngle": 0, "tickBand": "extent", "labelFontSize": 15, "labelPadding": 6}},
            "y": {"field": "fold", "type": "quantitative", "scale": {"domain": [0, 8]},
                  "axis": {"values": [0, 2, 4, 6, 8], "title": "Fold change", "labelFontSize": 14, "titleFontSize": 15, "titlePadding": 12}}
          },
          "layer": [
            {
              "mark": {"type": "bar"},
              "encoding": {"color": {"field": "cond", "type": "nominal", "scale": {"domain": ["EV", "Circ-MDM2 OE"], "range": ["#4F81BD", "#C0504D"]}, "legend": null}}
            },
            {"mark": {"type": "errorbar", "ticks": {"size": 10}, "color": "black"}, "encoding": {"yError": {"field": "err"}}},
            {
              "transform": [{"filter": "datum.cond == 'EV'"}],
              "mark": {"type": "text", "fontSize": 15, "baseline": "middle"},
              "encoding": {"x": {"datum": "EV", "bandPosition": 0.75}, "y": {"datum": 7.6}, "text": {"value": "Circ-MDM2"}}
            }
          ]
        },
        {
          "hconcat": [
            {
              "width": 215, "height": 181,
              "title": {"text": "G", "offset": 10},
              "data": {"name": "oe"},
              "encoding": {
                "x": {"field": "day", "type": "ordinal", "bandPosition": 0.5,
                      "scale": {"type": "band", "paddingInner": 0, "paddingOuter": 0},
                      "axis": {"title": null, "labelAngle": 0, "tickBand": "extent", "labelFontSize": 14, "labelPadding": 5}},
                "y": {"field": "value", "type": "quantitative", "scale": {"domain": [0, 10]},
                      "axis": {"values": [0, 2, 4, 6, 8, 10], "title": "Relative proliferation", "labelFontSize": 14, "titleFontSize": 14, "titlePadding": 8}}
              },
              "layer": [
                {
                  "mark": {"type": "line", "strokeWidth": 1.3, "interpolate": "monotone"},
                  "encoding": {
                    "color": {"field": "series", "type": "nominal",
                      "scale": {"domain": ["EV", "Circ-MDM2 OE"], "range": ["#4F81BD", "#C0504D"]},
                      "legend": {"orient": "none", "legendX": 10, "legendY": 6, "title": null, "symbolType": "stroke",
                                 "symbolStrokeWidth": 1.5, "symbolSize": 784, "clipHeight": 25, "labelFontSize": 15, "labelOffset": 3}}
                  }
                },
                {
                  "mark": {"type": "errorbar", "ticks": {"size": 8}, "color": "black"},
                  "encoding": {"yError": {"field": "err"}, "detail": {"field": "series"}}
                }
              ]
            },
            {
              "width": 117, "height": 210,
              "title": {"text": "H", "offset": -72},
              "data": {"name": "blot"},
              "encoding": {
                "y": {"field": "protein", "type": "nominal", "sort": ["p53", "p21", "MDM2", "GAPDH"],
                      "scale": {"paddingInner": 0.5, "paddingOuter": 0},
                      "axis": {"title": null, "ticks": false, "domain": false, "labelFontSize": 14, "labelPadding": 14}}
              },
              "layer": [
                {
                  "transform": [{"filter": "datum.lane == 'EV'"}],
                  "mark": {"type": "rect", "color": "#bcbcbc", "stroke": "black", "strokeWidth": 1.5}
                },
                {
                  "mark": {"type": "rect", "color": "#2a2a2a", "cornerRadius": 8, "width": {"band": 0.85}, "height": {"band": 0.55}},
                  "encoding": {
                    "x": {"field": "lane", "type": "nominal", "sort": ["EV", "Circ-MDM2 OE"], "scale": {"paddingInner": 0, "paddingOuter": 0},
                          "axis": {"orient": "top", "title": null, "ticks": false, "domain": false, "labelAngle": -60, "labelAlign": "left", "labelBaseline": "middle", "labelFontSize": 14, "labelPadding": 6}},
                    "opacity": {"field": "rel", "type": "quantitative", "scale": {"domain": [0, 1], "range": [0, 0.4]}, "legend": null}
                  }
                },
                {
                  "mark": {"type": "rect", "color": "black", "cornerRadius": 5, "width": {"band": 0.7}, "height": {"band": 0.3}},
                  "encoding": {
                    "x": {"field": "lane", "type": "nominal", "sort": ["EV", "Circ-MDM2 OE"]},
                    "opacity": {"field": "rel", "type": "quantitative", "scale": {"domain": [0, 1], "range": [0.3, 1]}, "legend": null}
                  }
                },
                {
                  "mark": {"type": "text", "fontSize": 15, "fontWeight": "bold", "baseline": "middle", "dy": 16},
                  "encoding": {
                    "x": {"field": "lane", "type": "nominal", "sort": ["EV", "Circ-MDM2 OE"]},
                    "y": {"field": "protein", "type": "nominal", "sort": ["p53", "p21", "MDM2", "GAPDH"], "bandPosition": 1},
                    "text": {"field": "rel", "type": "quantitative", "format": ".2r"}
                  }
                }
              ]
            }
          ],
          "spacing": 73,
          "bounds": "flush",
          "resolve": {"scale": {"color": "independent", "opacity": "independent"}}
        }
      ],
      "spacing": 62,
      "bounds": "flush",
      "resolve": {"scale": {"color": "independent", "opacity": "independent"}}
    }
  ],
  "spacing": 8,
  "resolve": {"scale": {"color": "independent", "opacity": "independent"}}
}
